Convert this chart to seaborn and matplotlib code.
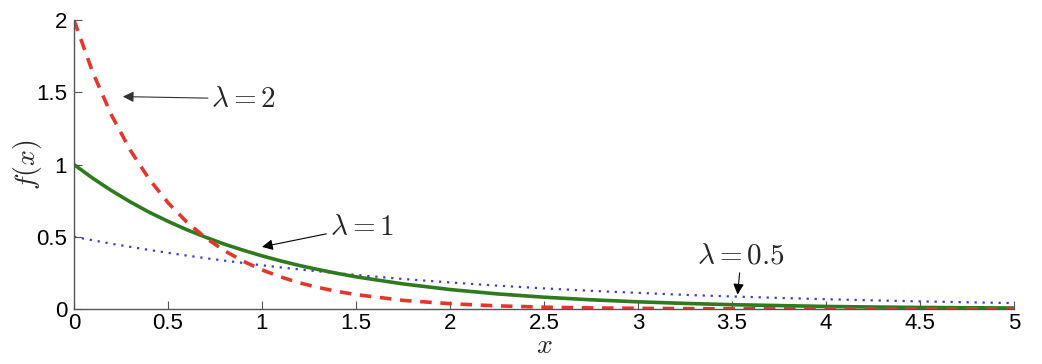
import seaborn as sns
import matplotlib.pyplot as plt

# values
x_vals = [0, 0.1, 0.2, 0.3, 0.4, 0.5, 0.6, 0.7, 0.8, 0.9, 1.0, 1.1, 1.2, 1.3, 1.4, 1.5,
          1.75, 2.0, 2.25, 2.5, 2.75, 3.0, 3.25, 3.5, 3.75, 4.0, 4.25, 4.5, 4.75, 5.0]
f_lam2 = [2.0, 1.637, 1.341, 1.098, 0.899, 0.736, 0.602, 0.493, 0.404, 0.331, 0.271, 0.222,
          0.181, 0.149, 0.122, 0.100, 0.060, 0.037, 0.022, 0.013, 0.008, 0.005, 0.003, 0.002,
          0.001, 0.001, 0.0004, 0.0002, 0.0001, 0.0001]
f_lam1 = [1.0, 0.905, 0.819, 0.741, 0.670, 0.607, 0.549, 0.497, 0.449, 0.407, 0.368, 0.333,
          0.301, 0.273, 0.247, 0.223, 0.174, 0.135, 0.105, 0.082, 0.064, 0.050, 0.039, 0.030,
          0.024, 0.018, 0.014, 0.011, 0.009, 0.007]
f_lam05 = [0.5, 0.476, 0.452, 0.430, 0.409, 0.389, 0.370, 0.352, 0.335, 0.319, 0.303, 0.288,
           0.274, 0.261, 0.248, 0.236, 0.208, 0.184, 0.162, 0.143, 0.126, 0.112, 0.098, 0.087,
           0.077, 0.068, 0.060, 0.053, 0.047, 0.041]
x_ticks = [0, 0.5, 1, 1.5, 2, 2.5, 3, 3.5, 4, 4.5, 5]
y_ticks = [0, 0.5, 1, 1.5, 2]

sns.set_style("ticks")
plt.rcParams['mathtext.fontset'] = 'cm'
plt.rcParams['font.family'] = ['Liberation Sans', 'DejaVu Sans']

fig = plt.figure(figsize=(10.42, 3.64), dpi=100)
ax = fig.add_axes([0.071, 0.151, 0.902, 0.794])

sns.lineplot(x=x_vals, y=f_lam05, ax=ax, color="#3a3ad6", lw=1.6, linestyle=(0, (1, 2.6)))
sns.lineplot(x=x_vals, y=f_lam1, ax=ax, color="#2f7a1f", lw=2.6)
sns.lineplot(x=x_vals, y=f_lam2, ax=ax, color="#e3372d", lw=2.6, linestyle=(0, (3.2, 2.4)))

ax.set_xlim(0, 5)
ax.set_ylim(0, 2)
ax.set_xticks(x_ticks)
ax.set_xticklabels([f"{t:g}" for t in x_ticks])
ax.set_yticks(y_ticks)
ax.set_yticklabels([f"{t:g}" for t in y_ticks])
ax.tick_params(direction="in", length=6, width=0.8, labelsize=16, pad=3, colors="#555555",
               labelcolor="black")
ax.tick_params(axis="y", pad=5)
sns.despine(ax=ax)
for s in ["left", "bottom"]:
    ax.spines[s].set_color("#555555")
    ax.spines[s].set_linewidth(1.0)

ax.set_xlabel("$x$", fontsize=20, labelpad=-1)
ax.set_ylabel("$f(x)$", fontsize=20, va="center")
ax.yaxis.set_label_coords(-0.049, 0.5)

arrow = dict(arrowstyle="-|>", color="black", lw=0.8, mutation_scale=16,
             shrinkA=0, shrinkB=0)
ax.annotate(r"$\lambda=2$", xy=(0.26, 1.47), xytext=(0.73, 1.455), fontsize=21,
            va="center", ha="left", arrowprops=dict(arrow, color="#333333"))
ax.annotate(r"$\lambda=1$", xy=(1.0, 0.43), xytext=(1.36, 0.57), fontsize=21,
            va="center", ha="left", arrowprops=arrow)
ax.annotate(r"$\lambda=0.5$", xy=(3.53, 0.1), xytext=(3.55, 0.37), fontsize=21,
            va="center", ha="center", arrowprops=arrow)

fig.savefig("out.png", dpi=100)
